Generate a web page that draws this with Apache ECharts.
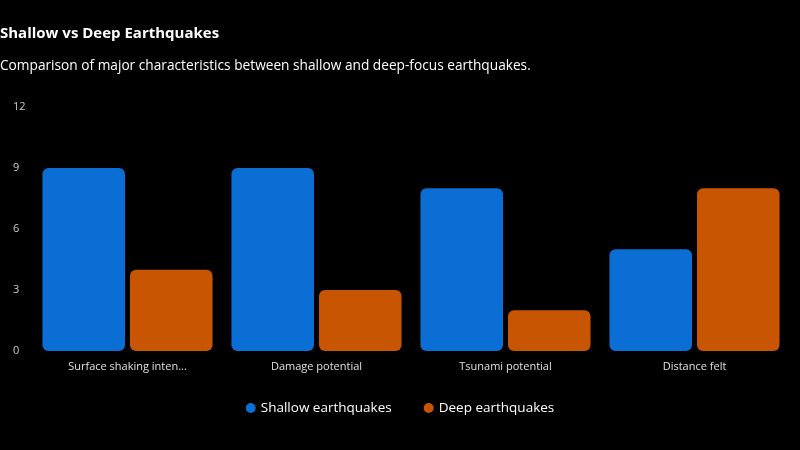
<!DOCTYPE html>
<html>
<head>
<meta charset="utf-8">
<script src="https://cdn.jsdelivr.net/npm/echarts@6/dist/echarts.min.js"></script>
<style>
    html, body { margin: 0; padding: 0; background: #000; }
    #chart { width: 800px; height: 450px; }
</style>
</head>
<body>
<div id="chart"></div>
<script>
// 数据
const categories = ['Surface shaking intensity', 'Damage potential', 'Tsunami potential', 'Distance felt'];
const shallowValues = [9, 9, 8, 5];
const deepValues = [4, 3, 2, 8];
const yTicks = [0, 3, 6, 9, 12];

const fontFamily = '"Segoe UI", "Open Sans", "Noto Sans", sans-serif';

const myChart = echarts.init(document.getElementById('chart'));

const option = {
    backgroundColor: '#000000',
    textStyle: { fontFamily: fontFamily },
    title: {
        text: 'Shallow vs Deep Earthquakes',
        subtext: 'Comparison of major characteristics between shallow and deep-focus earthquakes.',
        left: 0,
        top: 26,
        padding: [0, 0, 0, 0],
        itemGap: 18,
        textStyle: { color: '#ffffff', fontSize: 15, fontWeight: 'bold', fontFamily: fontFamily },
        subtextStyle: { color: '#ffffff', fontSize: 13.7, fontFamily: fontFamily }
    },
    legend: {
        bottom: 30,
        left: 'center',
        icon: 'circle',
        itemWidth: 10,
        itemHeight: 10,
        itemGap: 32,
        textStyle: { color: '#ffffff', fontSize: 13.5, fontFamily: fontFamily }
    },
    grid: {
        left: 33,
        right: 11,
        top: 107,
        bottom: 99,
        containLabel: false
    },
    xAxis: {
        type: 'category',
        data: categories,
        axisLine: { show: false },
        axisTick: { show: false },
        axisLabel: {
            color: '#e0e0e0',
            fontSize: 11,
            margin: 10,
            width: 120,
            overflow: 'truncate',
            ellipsis: '...'
        }
    },
    yAxis: {
        type: 'value',
        min: yTicks[0],
        max: yTicks[yTicks.length - 1],
        interval: 3,
        splitLine: { show: false },
        axisLine: { show: false },
        axisTick: { show: false },
        axisLabel: { color: '#cccccc', fontSize: 11, margin: 20, align: 'left' }
    },
    series: [
        {
            name: 'Shallow earthquakes',
            type: 'bar',
            data: shallowValues,
            barGap: '6%',
            barCategoryGap: '10%',
            itemStyle: { color: '#0a6ed4', borderRadius: 6 }
        },
        {
            name: 'Deep earthquakes',
            type: 'bar',
            data: deepValues,
            itemStyle: { color: '#c75502', borderRadius: 6 }
        }
    ]
};

myChart.setOption(option);
</script>
</body>
</html>
